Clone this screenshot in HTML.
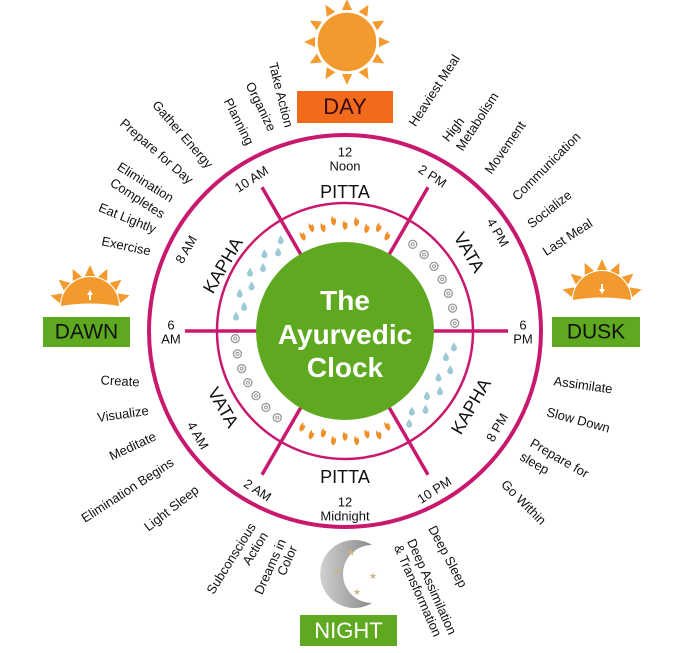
<!DOCTYPE html>
<html><head><meta charset="utf-8"><style>
html,body{margin:0;padding:0;background:#fff;}
svg{display:block;font-family:"Liberation Sans",sans-serif;}
.l{font-size:13px;fill:#111;text-anchor:middle;dominant-baseline:middle;}
.t{font-size:13px;fill:#111;text-anchor:middle;dominant-baseline:middle;}
.s{font-size:18px;fill:#111;text-anchor:middle;dominant-baseline:middle;}
</style></head><body>
<svg width="696" height="653" viewBox="0 0 696 653" xmlns="http://www.w3.org/2000/svg">
<defs>
<g id="ray"><polygon points="-5,0 5,0 0,-11" fill="#f39a2e"/></g>
<g id="fl"><path d="M0,5 C-3,3 -3,-1 -1,-5 C0,-2 1,-1 2,-3 C3,0 3,3 0,5Z" fill="#f0902a"/></g>
<g id="dr"><path d="M0,-4 C2,-1 3,1 3,2 A3,3 0 0 1 -3,2 C-3,1 -2,-1 0,-4Z" fill="#9ccad6"/></g>
<g id="sp"><circle r="4" fill="none" stroke="#999" stroke-width="1.3"/><circle r="1.5" fill="none" stroke="#999" stroke-width="1"/></g>
</defs>

<g transform="translate(347,42)">
<g><use href="#ray" transform="rotate(0) translate(0,-32)"/><use href="#ray" transform="rotate(30) translate(0,-32)"/><use href="#ray" transform="rotate(60) translate(0,-32)"/><use href="#ray" transform="rotate(90) translate(0,-32)"/><use href="#ray" transform="rotate(120) translate(0,-32)"/><use href="#ray" transform="rotate(150) translate(0,-32)"/><use href="#ray" transform="rotate(180) translate(0,-32)"/><use href="#ray" transform="rotate(210) translate(0,-32)"/><use href="#ray" transform="rotate(240) translate(0,-32)"/><use href="#ray" transform="rotate(270) translate(0,-32)"/><use href="#ray" transform="rotate(300) translate(0,-32)"/><use href="#ray" transform="rotate(330) translate(0,-32)"/></g>
<circle r="30" fill="#f39a2e" stroke="#fff" stroke-width="1.5"/>
</g>
<rect x="297" y="91" width="96" height="32" fill="#f26b1d"/>
<text x="345" y="108" class="s" style="font-size:22px;fill:#3a0a10">DAY</text>

<g transform="translate(90,306)">
<use href="#ray" transform="rotate(-75) translate(0,-30)"/><use href="#ray" transform="rotate(-50) translate(0,-30)"/><use href="#ray" transform="rotate(-25) translate(0,-30)"/><use href="#ray" transform="rotate(0) translate(0,-30)"/><use href="#ray" transform="rotate(25) translate(0,-30)"/><use href="#ray" transform="rotate(50) translate(0,-30)"/><use href="#ray" transform="rotate(75) translate(0,-30)"/>
<path d="M-29,0 A29,29 0 0 1 29,0 Q0,-5 -29,0Z" fill="#f39a2e"/>
<path d="M0,-16 L-3,-11 L-1,-11 L-1,-6 L1,-6 L1,-11 L3,-11Z" fill="#fff"/>
</g>
<rect x="43" y="317" width="87" height="30" fill="#5ea91f"/>
<text x="86.5" y="333" class="s" style="font-size:21px">DAWN</text>

<g transform="translate(602,300)">
<use href="#ray" transform="rotate(-75) translate(0,-30)"/><use href="#ray" transform="rotate(-50) translate(0,-30)"/><use href="#ray" transform="rotate(-25) translate(0,-30)"/><use href="#ray" transform="rotate(0) translate(0,-30)"/><use href="#ray" transform="rotate(25) translate(0,-30)"/><use href="#ray" transform="rotate(50) translate(0,-30)"/><use href="#ray" transform="rotate(75) translate(0,-30)"/>
<path d="M-29,0 A29,29 0 0 1 29,0 Q0,-5 -29,0Z" fill="#f39a2e"/>
<path d="M0,-6 L-3,-11 L-1,-11 L-1,-16 L1,-16 L1,-11 L3,-11Z" fill="#fff"/>
</g>
<rect x="552" y="317" width="88" height="30" fill="#5ea91f"/>
<text x="596" y="333" class="s" style="font-size:21px">DUSK</text>

<defs><linearGradient id="mg" x1="0" x2="1"><stop offset="0" stop-color="#d0d0d0"/><stop offset="1" stop-color="#8a8a8a"/></linearGradient></defs>
<path d="M372,545 A34,34 0 1 0 372,603 A29,29 0 1 1 372,545Z" fill="url(#mg)"/>
<text x="351" y="556" style="font-size:11px;fill:#c9b48a" text-anchor="middle">★</text>
<text x="337" y="574" style="font-size:9px;fill:#c9b48a" text-anchor="middle">★</text>
<text x="373" y="579" style="font-size:9px;fill:#c9b48a" text-anchor="middle">★</text>
<text x="357" y="595" style="font-size:9px;fill:#c9b48a" text-anchor="middle">★</text>
<rect x="300" y="615" width="97" height="31" fill="#5ea91f"/>
<text x="348.5" y="632" class="s" style="font-size:22px;fill:#fff">NIGHT</text>

<circle cx="345" cy="331" r="196" fill="none" stroke="#c8196e" stroke-width="4"/>
<circle cx="345" cy="331" r="128" fill="none" stroke="#c8196e" stroke-width="2.5"/>
<g stroke="#c8196e" stroke-width="3.5">
<line x1="185" y1="331" x2="260" y2="331"/><line x1="430" y1="331" x2="508" y2="331"/>
<g transform="rotate(30 345 331)"><line x1="345" y1="165" x2="345" y2="245"/></g>
<g transform="rotate(-30 345 331)"><line x1="345" y1="165" x2="345" y2="245"/></g>
<g transform="rotate(150 345 331)"><line x1="345" y1="165" x2="345" y2="245"/></g>
<g transform="rotate(210 345 331)"><line x1="345" y1="165" x2="345" y2="245"/></g>
</g>
<circle cx="345" cy="331" r="89" fill="#5ea91f"/>
<g style="font-size:28px;font-weight:bold;fill:#fff" text-anchor="middle">
<text x="345" y="310">The</text><text x="345" y="344">Ayurvedic</text><text x="345" y="377">Clock</text>
</g>

<g transform="translate(345,331)">
<use href="#fl" transform="rotate(-24) translate(0,-104)"/><use href="#fl" transform="rotate(-18) translate(0,-109)"/><use href="#fl" transform="rotate(-12) translate(0,-106)"/><use href="#fl" transform="rotate(-6) translate(0,-111)"/><use href="#fl" transform="rotate(0) translate(0,-106)"/><use href="#fl" transform="rotate(6) translate(0,-110)"/><use href="#fl" transform="rotate(12) translate(0,-105)"/><use href="#fl" transform="rotate(18) translate(0,-109)"/><use href="#fl" transform="rotate(24) translate(0,-104)"/>
<use href="#fl" transform="rotate(156) translate(0,-104) rotate(180)"/><use href="#fl" transform="rotate(162) translate(0,-109) rotate(180)"/><use href="#fl" transform="rotate(168) translate(0,-105) rotate(180)"/><use href="#fl" transform="rotate(174) translate(0,-110) rotate(180)"/><use href="#fl" transform="rotate(180) translate(0,-105) rotate(180)"/><use href="#fl" transform="rotate(186) translate(0,-110) rotate(180)"/><use href="#fl" transform="rotate(192) translate(0,-104) rotate(180)"/><use href="#fl" transform="rotate(198) translate(0,-109) rotate(180)"/><use href="#fl" transform="rotate(204) translate(0,-105) rotate(180)"/>
<use href="#sp" transform="rotate(38) translate(0,-110)"/><use href="#sp" transform="rotate(46) translate(0,-110)"/><use href="#sp" transform="rotate(54) translate(0,-110)"/><use href="#sp" transform="rotate(62) translate(0,-110)"/><use href="#sp" transform="rotate(70) translate(0,-110)"/><use href="#sp" transform="rotate(78) translate(0,-110)"/><use href="#sp" transform="rotate(86) translate(0,-110)"/>
<use href="#sp" transform="rotate(218) translate(0,-110)"/><use href="#sp" transform="rotate(226) translate(0,-110)"/><use href="#sp" transform="rotate(234) translate(0,-110)"/><use href="#sp" transform="rotate(242) translate(0,-110)"/><use href="#sp" transform="rotate(250) translate(0,-110)"/><use href="#sp" transform="rotate(258) translate(0,-110)"/><use href="#sp" transform="rotate(266) translate(0,-110)"/>
<use href="#dr" transform="rotate(-35) translate(0,-112) rotate(35)"/><use href="#dr" transform="rotate(-40) translate(0,-104) rotate(40)"/><use href="#dr" transform="rotate(-46) translate(0,-112) rotate(46)"/><use href="#dr" transform="rotate(-52) translate(0,-104) rotate(52)"/><use href="#dr" transform="rotate(-58) translate(0,-112) rotate(58)"/><use href="#dr" transform="rotate(-64) translate(0,-104) rotate(64)"/><use href="#dr" transform="rotate(-70) translate(0,-112) rotate(70)"/><use href="#dr" transform="rotate(-76) translate(0,-104) rotate(76)"/><use href="#dr" transform="rotate(-82) translate(0,-110) rotate(82)"/>
<use href="#dr" transform="rotate(98) translate(0,-110) rotate(-98)"/><use href="#dr" transform="rotate(104) translate(0,-104) rotate(-104)"/><use href="#dr" transform="rotate(110) translate(0,-112) rotate(-110)"/><use href="#dr" transform="rotate(116) translate(0,-104) rotate(-116)"/><use href="#dr" transform="rotate(122) translate(0,-112) rotate(-122)"/><use href="#dr" transform="rotate(128) translate(0,-104) rotate(-128)"/><use href="#dr" transform="rotate(134) translate(0,-112) rotate(-134)"/><use href="#dr" transform="rotate(140) translate(0,-104) rotate(-140)"/><use href="#dr" transform="rotate(145) translate(0,-112) rotate(-145)"/>
</g>

<text class="s" x="345" y="193">PITTA</text>
<text class="s" x="345" y="478">PITTA</text>
<text class="s" transform="translate(468,253) rotate(60)">VATA</text>
<text class="s" transform="translate(222,408) rotate(60)">VATA</text>
<text class="s" transform="translate(224,266) rotate(-60)">KAPHA</text>
<text class="s" transform="translate(472,407) rotate(-60)">KAPHA</text>

<text class="t" x="345" y="153">12</text><text class="t" x="345" y="167">Noon</text>
<text class="t" x="345" y="503">12</text><text class="t" x="345" y="517">Midnight</text>
<text class="t" x="171" y="326">6</text><text class="t" x="171" y="340">AM</text>
<text class="t" x="523" y="326">6</text><text class="t" x="523" y="340">PM</text>
<text class="t" transform="translate(252,180) rotate(-33)">10 AM</text>
<text class="t" transform="translate(187,250) rotate(-60)">8 AM</text>
<text class="t" transform="translate(432,177) rotate(33)">2 PM</text>
<text class="t" transform="translate(497,233) rotate(60)">4 PM</text>
<text class="t" transform="translate(498,428) rotate(-60)">8 PM</text>
<text class="t" transform="translate(435,491) rotate(-33)">10 PM</text>
<text class="t" transform="translate(257,491) rotate(33)">2 AM</text>
<text class="t" transform="translate(197,436) rotate(60)">4 AM</text>

<text class="l" transform="translate(280,95) rotate(76)">Take Action</text>
<text class="l" transform="translate(260,107) rotate(64)">Organize</text>
<text class="l" transform="translate(238,122) rotate(63)">Planning</text>
<text class="l" transform="translate(182,135) rotate(49)">Gather Energy</text>
<text class="l" transform="translate(156,152) rotate(41)">Prepare for Day</text>
<text class="l" transform="translate(145,183) rotate(32)">Elimination</text>
<text class="l" transform="translate(137,199) rotate(33)">Completes</text>
<text class="l" transform="translate(127,219) rotate(22)">Eat Lightly</text>
<text class="l" transform="translate(126,247) rotate(12)">Exercise</text>

<text class="l" transform="translate(435,91) rotate(-57)">Heaviest Meal</text>
<text class="l" transform="translate(454,130) rotate(-52)">High</text>
<text class="l" transform="translate(478,122) rotate(-57)">Metabolism</text>
<text class="l" transform="translate(506,148) rotate(-55)">Movement</text>
<text class="l" transform="translate(547,167) rotate(-45)">Communication</text>
<text class="l" transform="translate(550,210) rotate(-38)">Socialize</text>
<text class="l" transform="translate(568,238) rotate(-33)">Last Meal</text>

<text class="l" transform="translate(120,382) rotate(3)">Create</text>
<text class="l" transform="translate(123,415) rotate(-8)">Visualize</text>
<text class="l" transform="translate(133,447) rotate(-25)">Meditate</text>
<text class="l" transform="translate(128,491) rotate(-33)">Elimination Begins</text>
<text class="l" transform="translate(172,509) rotate(-38)">Light Sleep</text>
<text class="l" transform="translate(232,559) rotate(-58)">Subconscious</text>
<text class="l" transform="translate(256,549) rotate(-58)">Action</text>
<text class="l" transform="translate(271,567) rotate(-66)">Dreams in</text>
<text class="l" transform="translate(288,561) rotate(-66)">Color</text>

<text class="l" transform="translate(583,386) rotate(8)">Assimilate</text>
<text class="l" transform="translate(578,421) rotate(15)">Slow Down</text>
<text class="l" transform="translate(559,459) rotate(30)">Prepare for</text>
<text class="l" transform="translate(534,464) rotate(30)">sleep</text>
<text class="l" transform="translate(523,503) rotate(45)">Go Within</text>
<text class="l" transform="translate(447,557) rotate(62)">Deep Sleep</text>
<text class="l" transform="translate(431,587) rotate(66)">Deep Assimilation</text>
<text class="l" transform="translate(417,591) rotate(66)">&amp; Transformation</text>
</svg>
</body></html>
